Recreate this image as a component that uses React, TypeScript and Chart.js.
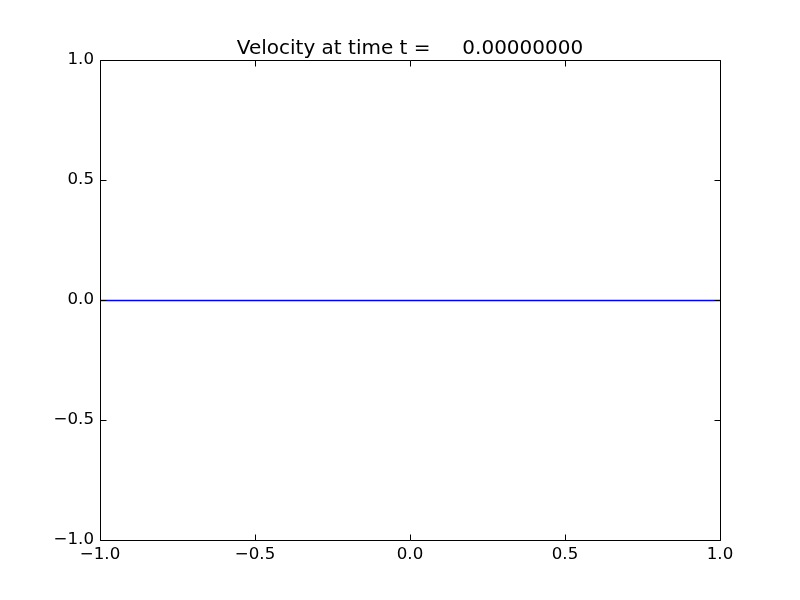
import React, { useEffect, useRef } from "react";
import { Chart, registerables } from "chart.js";

Chart.register(...registerables);

const TITLE = "Velocity at time t =     0.00000000";
const positions = [-1.0, -0.8, -0.6, -0.4, -0.2, 0.0, 0.2, 0.4, 0.6, 0.8, 1.0];
const velocity = [0, 0, 0, 0, 0, 0, 0, 0, 0, 0, 0];
const xRange = [-1, 1];
const yRange = [-1, 1];
const tickStep = 0.5;

const FONT = "'DejaVu Sans', sans-serif";

const fmt = (v: number) => (v < 0 ? "\u2212" : "") + Math.abs(v).toFixed(1);

const framePlugin = {
  id: "mplFrame",
  beforeDatasetsDraw(chart: any) {
    chart.ctx.save();
    chart.ctx.translate(0.5, 0.5);
  },
  afterDatasetsDraw(chart: any) {
    chart.ctx.restore();
  },
  afterDraw(chart: any) {
    const { ctx, chartArea } = chart;
    const { left, right, top, bottom } = chartArea;
    const xs = chart.scales.x;
    const ys = chart.scales.y;
    const L = Math.round(left) + 0.5;
    const R = Math.round(right) + 0.5;
    const T = Math.round(top) + 0.5;
    const B = Math.round(bottom) + 0.5;
    const len = 6;
    ctx.save();
    ctx.strokeStyle = "#000000";
    ctx.lineWidth = 1;
    ctx.beginPath();
    ctx.rect(L, T, R - L, B - T);
    ctx.stroke();
    ctx.beginPath();
    xs.ticks.forEach((t: any) => {
      const px = Math.round(xs.getPixelForValue(t.value)) + 0.5;
      ctx.moveTo(px, B);
      ctx.lineTo(px, B - len);
      ctx.moveTo(px, T);
      ctx.lineTo(px, T + len);
    });
    ys.ticks.forEach((t: any) => {
      const py = Math.round(ys.getPixelForValue(t.value)) + 0.5;
      ctx.moveTo(L, py);
      ctx.lineTo(L + len, py);
      ctx.moveTo(R, py);
      ctx.lineTo(R - len, py);
    });
    ctx.stroke();
    ctx.restore();
  },
};

export default function App() {
  const ref = useRef<HTMLCanvasElement | null>(null);
  useEffect(() => {
    if (!ref.current) return;
    const chart = new Chart(ref.current, {
      type: "line",
      data: {
        datasets: [
          {
            data: positions.map((x, i) => ({ x, y: velocity[i] })),
            borderColor: "#0000ff",
            borderWidth: 1.4,
            pointRadius: 0,
            fill: false,
            tension: 0,
            yAxisID: "y",
          },
        ],
      },
      options: {
        animation: false,
        responsive: false,
        devicePixelRatio: 1,
        layout: { padding: { left: 20, right: 0, top: 0, bottom: 0 } },
        plugins: {
          legend: { display: false },
          tooltip: { enabled: false },
          title: {
            display: true,
            text: TITLE,
            color: "#000000",
            font: { family: FONT, size: 20, weight: "normal", lineHeight: 1 },
            padding: { top: 39, bottom: 1 },
          },
        },
        scales: {
          x: {
            type: "linear",
            min: xRange[0],
            max: xRange[1],
            grid: { display: false, drawTicks: false },
            border: { display: false },
            ticks: {
              stepSize: tickStep,
              color: "#000000",
              font: { family: FONT, size: 16.67 },
              padding: 5,
              maxRotation: 0,
              autoSkip: false,
              callback: (v: any) => fmt(Number(v)),
            },
            afterFit: (s: any) => {
              s.height = 60;
            },
          },
          y: {
            type: "linear",
            position: "left",
            min: yRange[0],
            max: yRange[1],
            grid: { display: false, drawTicks: false },
            border: { display: false },
            ticks: {
              stepSize: tickStep,
              color: "#000000",
              font: { family: FONT, size: 16.67 },
              padding: 6,
              autoSkip: false,
              callback: (v: any) => fmt(Number(v)),
            },
            afterFit: (s: any) => {
              s.width = 80;
            },
          },
          yRight: {
            type: "linear",
            position: "right",
            min: yRange[0],
            max: yRange[1],
            grid: { display: false, drawTicks: false },
            border: { display: false },
            ticks: { display: false },
            afterFit: (s: any) => {
              s.width = 80;
            },
          },
        },
      },
      plugins: [framePlugin],
    });
    return () => chart.destroy();
  }, []);
  return (
    <div style={{ position: "absolute", left: 0, top: 0, width: 800, height: 600, background: "#ffffff" }}>
      <canvas ref={ref} width={800} height={600} style={{ display: "block" }} />
    </div>
  );
}
